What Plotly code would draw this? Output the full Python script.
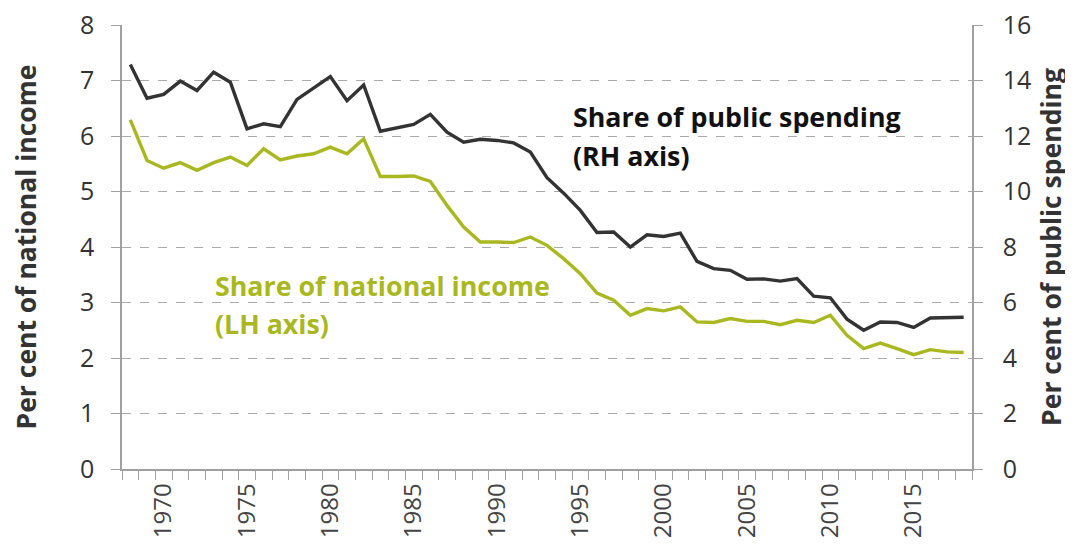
import plotly.graph_objects as go

years = list(range(1968, 2019))

share_national_income = [
    6.29, 5.56, 5.42, 5.52, 5.38, 5.52, 5.62, 5.47, 5.77, 5.57,
    5.64, 5.68, 5.80, 5.68, 5.95, 5.27, 5.27, 5.28, 5.18, 4.75,
    4.36, 4.09, 4.09, 4.08, 4.18, 4.03, 3.79, 3.52, 3.17, 3.04,
    2.77, 2.89, 2.85, 2.92, 2.65, 2.64, 2.71, 2.66, 2.66, 2.60,
    2.68, 2.64, 2.77, 2.41, 2.17, 2.27, 2.17, 2.06, 2.15, 2.11,
    2.10,
]

share_public_spending = [
    14.58, 13.36, 13.50, 13.98, 13.64, 14.30, 13.94, 12.26, 12.44, 12.34,
    13.32, 13.72, 14.14, 13.27, 13.84, 12.17, 12.29, 12.42, 12.78, 12.14,
    11.78, 11.88, 11.84, 11.75, 11.42, 10.50, 9.94, 9.32, 8.52, 8.54,
    8.00, 8.44, 8.38, 8.50, 7.48, 7.22, 7.16, 6.84, 6.85, 6.77,
    6.86, 6.23, 6.17, 5.40, 5.00, 5.30, 5.28, 5.10, 5.44, 5.44,
    5.47,
]

x_tick_years = [1970, 1975, 1980, 1985, 1990, 1995, 2000, 2005, 2010, 2015]
left_ticks = [0, 1, 2, 3, 4, 5, 6, 7, 8]
right_ticks = [0, 2, 4, 6, 8, 10, 12, 14, 16]

GREEN = "#a9b820"
DARK = "#333333"
AXIS = "#a0a0a0"
FONT = "Open Sans"

fig = go.Figure()
fig.add_trace(go.Scatter(
    x=years, y=share_national_income, mode="lines",
    line=dict(color=GREEN, width=3.4), yaxis="y", showlegend=False,
))
fig.add_trace(go.Scatter(
    x=years, y=share_public_spending, mode="lines",
    line=dict(color=DARK, width=3.4), yaxis="y2", showlegend=False,
))

# the page body adds an 8px offset, so margins are shifted accordingly
fig.update_layout(
    width=1065, height=539,
    margin=dict(l=114, r=101, t=17, b=78),
    paper_bgcolor="white", plot_bgcolor="white",
    font=dict(family=FONT, color=DARK),
    xaxis=dict(
        range=[1967.5, 2018.5], automargin=False,
        tickmode="array", tickvals=x_tick_years,
        ticktext=[str(v) for v in x_tick_years],
        tickangle=-90, ticks="", ticklabelstandoff=3,
        ticklabeloverflow="allow",
        tickfont=dict(size=24, color="#444444"),
        showline=True, linecolor=AXIS, linewidth=1.5,
        showgrid=False, zeroline=False,
        minor=dict(tickmode="linear", tick0=1967.5, dtick=1,
                   ticks="outside", ticklen=9, tickcolor=AXIS, tickwidth=1.2),
    ),
    yaxis=dict(
        range=[0, 8], tickmode="array", tickvals=left_ticks, automargin=False,
        ticks="outside", ticklen=9, tickcolor=AXIS, tickwidth=1.2,
        tickfont=dict(size=25, color="#333333"), ticklabelstandoff=12,
        ticklabeloverflow="allow",
        showline=True, linecolor=AXIS, linewidth=1.5,
        showgrid=True, gridcolor="#aaaaaa", gridwidth=1.2, griddash="dash",
        zeroline=False,
        title=dict(text="<b>Per cent of national income</b>",
                   font=dict(size=26.5, color="#333333"), standoff=50),
    ),
    yaxis2=dict(
        range=[0, 16], tickmode="array", tickvals=right_ticks, automargin=False,
        overlaying="y", side="right",
        ticks="outside", ticklen=9, tickcolor=AXIS, tickwidth=1.2,
        tickfont=dict(size=25, color="#333333"), ticklabelstandoff=15,
        ticklabeloverflow="allow",
        showline=True, linecolor=AXIS, linewidth=1.5,
        showgrid=False, zeroline=False,
        title=dict(text="<b>Per cent of public spending</b>",
                   font=dict(size=26.5, color="#333333"), standoff=12),
    ),
)

def label(text, x, y, color):
    fig.add_annotation(
        text="<b>" + text + "</b>", xref="paper", yref="paper",
        x=x, y=y, xanchor="left", yanchor="middle", showarrow=False,
        font=dict(family=FONT, size=26.8, color=color),
    )

# paper coords: plot area (page pixels) x 122..972, y 25..469
def px(xp):
    return (xp - 122) / 850.0

def py(yp):
    return (469 - yp) / 444.0

label("Share of public spending", px(571), py(116), "#111111")
label("(RH axis)", px(571), py(155), "#111111")
label("Share of national income", px(213), py(285), GREEN)
label("(LH axis)", px(213), py(323), GREEN)

fig.write_html("out.html")
